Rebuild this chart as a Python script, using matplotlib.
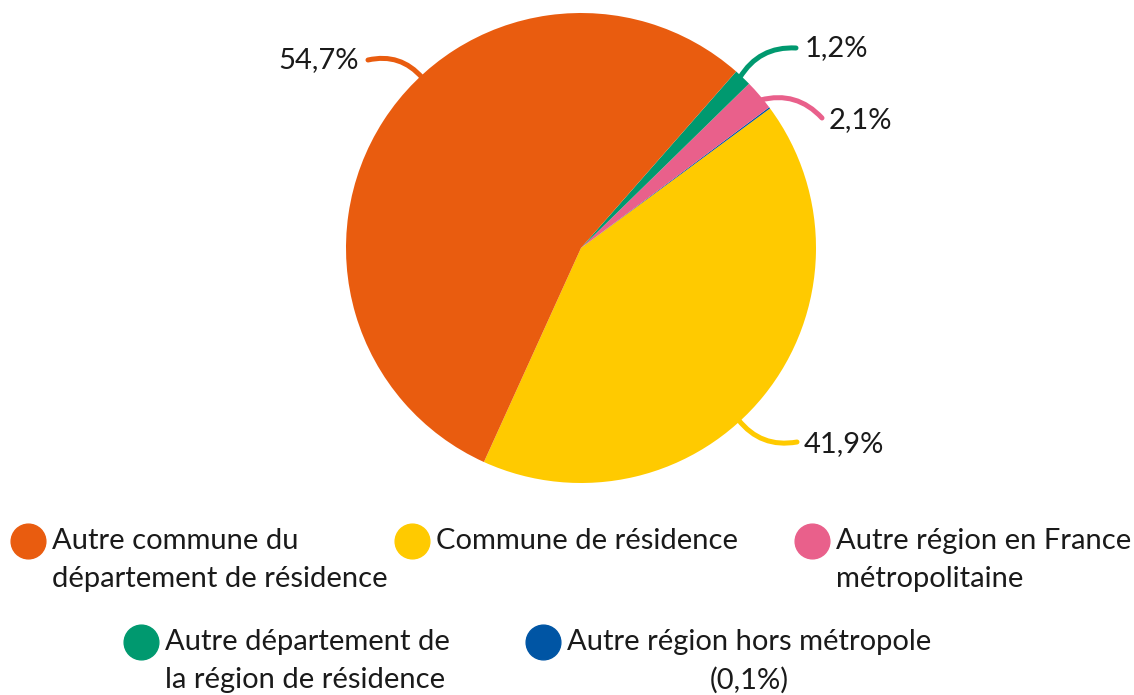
import matplotlib.pyplot as plt
from matplotlib.lines import Line2D
import numpy as np

plt.rcParams['font.family'] = ['Lato', 'DejaVu Sans']

# Data (pie order, counter-clockwise)
categories = ['Commune de résidence', 'Autre région hors métropole',
              'Autre région en France métropolitaine',
              'Autre département de la région de résidence',
              'Autre commune du département de résidence']
values = [41.9, 0.1, 2.1, 1.2, 54.7]
colors = ['#FFCA00', '#0055A4', '#E9608B', '#00996F', '#E95C0F']
pct_labels = ['41,9%', None, '2,1%', '1,2%', '54,7%']

# Legend entries (text as shown)
legend_text = {
    'Autre commune du département de résidence': 'Autre commune du\ndépartement de résidence',
    'Commune de résidence': 'Commune de résidence',
    'Autre région en France métropolitaine': 'Autre région en France\nmétropolitaine',
    'Autre département de la région de résidence': 'Autre département de\nla région de résidence',
    'Autre région hors métropole': 'Autre région hors métropole\n(0,1%)',
}

W, H = 1134, 695
FS = 21
fig = plt.figure(figsize=(W / 100, H / 100), dpi=100)

# pie: centre (581, 248) px, radius 235 px
R = 235
L = 1.2
cx, cy = 581, 248
ax = fig.add_axes([(cx - L * R) / W, (H - cy - L * R) / H, 2 * L * R / W, 2 * L * R / H])

wedges, _ = ax.pie(values, colors=colors, startangle=245.6, counterclock=True,
                   radius=1.0, wedgeprops=dict(linewidth=0), normalize=True)
ax.set_xlim(-L, L)
ax.set_ylim(-L, L)
ax.set_aspect('equal')
ax.axis('off')


def px(x, y):
    return ((x - cx) / R, (cy - y) / R)


# leader lines: (text anchor px, line start px, angle on pie, ha, rad)
leaders = {
    '54,7%': ((359, 60), (368, 60), 133.0, 'right', -0.3),
    '1,2%': ((805, 48), (796, 48), 47.0, 'left', 0.3),
    '2,1%': ((829, 120), (822, 118), 39.5, 'left', 0.3),
    '41,9%': ((804, 444), (797, 442), -47.5, 'left', -0.3),
}

for lab, col in zip(pct_labels, colors):
    if lab is None:
        continue
    tpos, lpos, ang, ha, rad = leaders[lab]
    a = np.deg2rad(ang)
    end = (0.99 * np.cos(a), 0.99 * np.sin(a))
    ax.annotate('', xy=end, xytext=px(*lpos),
                arrowprops=dict(arrowstyle='-', color=col, lw=3.6,
                                capstyle='round', shrinkA=0, shrinkB=0,
                                connectionstyle=f'arc3,rad={rad}'))
    ax.text(*px(*tpos), lab, ha=ha, va='center', fontsize=FS, color='#1a1a1a')

# legend (manual layout)
legend_layout = [
    ('Autre commune du département de résidence', 28, 541, 'left'),
    ('Commune de résidence', 412, 541, 'left'),
    ('Autre région en France métropolitaine', 812, 541, 'left'),
    ('Autre département de la région de résidence', 141, 642, 'left'),
    ('Autre région hors métropole', 543, 642, 'center'),
]
for cat, mx, my, align in legend_layout:
    col = colors[categories.index(cat)]
    fig.add_artist(Line2D([mx / W], [1 - my / H], marker='o', markersize=25,
                          color=col, transform=fig.transFigure, linestyle='none'))
    txt = legend_text[cat]
    fig.text((mx + 24) / W, 1 - (my - 13) / H, txt, ha='left', va='top',
             fontsize=FS, color='#1a1a1a', linespacing=1.55,
             multialignment=align)

fig.savefig('out.png', dpi=100)
